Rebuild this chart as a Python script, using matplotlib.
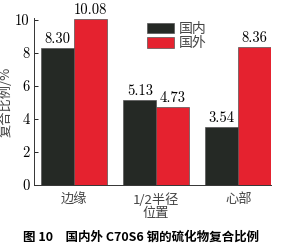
import matplotlib
matplotlib.use("Agg")
import matplotlib.pyplot as plt
import numpy as np

categories = ["边缘", "1/2半径\n位置", "心部"]
domestic = [8.30, 5.13, 3.54]
foreign = [10.08, 4.73, 8.36]
series_names = ["国内", "国外"]
yticks = [0, 2, 4, 6, 8, 10]

cjk = ["Noto Sans CJK SC", "DejaVu Sans"]
num_font = ["cmr10", "DejaVu Serif"]
plt.rcParams['axes.formatter.use_mathtext'] = True

fig = plt.figure(figsize=(2.82, 2.48), dpi=100)
ax = fig.add_axes([0.1206, 0.254, 0.8404, 0.672])

x = np.arange(len(categories))
w = 0.4
c_dom = "#252925"
c_for = "#e5222f"
b1 = ax.bar(x - w/2, domestic, w, color=c_dom, edgecolor="#555555", linewidth=0.5, label=series_names[0])
b2 = ax.bar(x + w/2, foreign, w, color=c_for, edgecolor="#555555", linewidth=0.5, label=series_names[1])

for bars, vals in ((b1, domestic), (b2, foreign)):
    for r, v in zip(bars, vals):
        ax.text(r.get_x() + r.get_width()/2, v + 0.12, f"{v:.2f}", ha="center", va="bottom",
                fontsize=10.5, family=num_font)

ax.set_xlim(-0.49, 2.4)
ax.set_ylim(0, 10.1)
ax.set_yticks(yticks)
ax.set_yticklabels([str(t) for t in yticks], family=num_font, fontsize=10.5)
ax.set_xticks(x)
ax.set_xticklabels(categories, family=cjk, fontsize=9.5, color="#444444", linespacing=0.95)
ax.tick_params(axis="y", direction="in", length=3, width=0.6, pad=3)
ax.tick_params(axis="x", length=0, pad=6)
for s in ("top", "right"):
    ax.spines[s].set_visible(False)
for s in ("left", "bottom"):
    ax.spines[s].set_linewidth(0.7)
    ax.spines[s].set_color("#333333")

ax.set_ylabel("复合比例/%", family=cjk, fontsize=9.5, color="#444444", labelpad=2)

leg = ax.legend(loc="upper left", bbox_to_anchor=(0.44, 1.03), prop={"family": cjk, "size": 10},
                frameon=False, handlelength=2.0, handleheight=0.8, handletextpad=0.3,
                labelspacing=0.05, borderaxespad=0.2)
for t in leg.get_texts():
    t.set_color("#444444")

fig.text(0.5, 0.045, "图 10　国内外 C70S6 钢的硫化物复合比例", ha="center", va="center",
         family=cjk, fontsize=9, fontweight="bold")

fig.savefig("out.png", dpi=100)
